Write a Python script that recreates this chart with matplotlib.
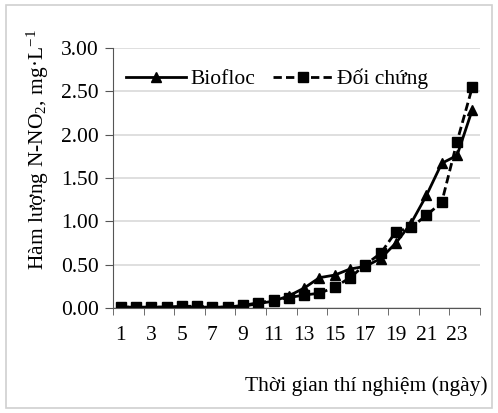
import matplotlib

matplotlib.use("Agg")
import matplotlib.pyplot as plt
from matplotlib.patches import Rectangle
import numpy as np

days = list(range(1, 25))
biofloc = [0.01, 0.01, 0.01, 0.01, 0.01, 0.01, 0.01, 0.01, 0.02, 0.05,
           0.08, 0.14, 0.23, 0.35, 0.38, 0.45, 0.48, 0.57, 0.75, 0.98,
           1.30, 1.67, 1.76, 2.29]
control = [0.01, 0.01, 0.01, 0.01, 0.02, 0.02, 0.01, 0.01, 0.03, 0.06,
           0.09, 0.12, 0.15, 0.17, 0.24, 0.35, 0.50, 0.63, 0.88, 0.93,
           1.07, 1.22, 1.92, 2.55]
xtick_labels = [str(d) for d in range(1, 24, 2)]

plt.rcParams["font.family"] = ["Liberation Serif", "DejaVu Serif"]
FS = 15.5

fig = plt.figure(figsize=(4.98, 4.13), dpi=100)
fig.patches.append(Rectangle((0.012, 0.012), 0.976, 0.976, transform=fig.transFigure,
                             fill=False, edgecolor="#d0d0d0", linewidth=1.2))
ax = fig.add_axes([113 / 498, 1 - 308 / 413, (480 - 113) / 498, (308 - 48) / 413])

ax.plot(days, biofloc, "-", color="black", lw=2, marker="^", ms=7,
        label="Biofloc")
ax.plot(days, control, "--", color="black", lw=2, marker="s", ms=6.5,
        dashes=(3, 1.5), label="Đối chứng")

ax.set_xlim(0.5, 24.5)
ax.set_ylim(0, 3.0)
ax.set_yticks(np.arange(0, 3.01, 0.5))
ax.set_yticklabels([f"{v:.2f}" for v in np.arange(0, 3.01, 0.5)], fontsize=FS)
ax.set_xticks(range(1, 24, 2))
ax.set_xticklabels(xtick_labels, fontsize=FS)
ax.tick_params(axis="x", length=0, pad=13)
ax.set_xticks(np.arange(0.5, 24.6, 2), minor=True)
ax.tick_params(axis="x", which="minor", length=5, direction="out", color="#555555")
ax.tick_params(axis="y", length=6, direction="out", color="#555555", pad=4)
ax.grid(axis="y", color="#d9d9d9", lw=1.2)
ax.set_axisbelow(True)
for s in ("top", "right"):
    ax.spines[s].set_visible(False)
ax.spines["left"].set_color("#555555")
ax.spines["bottom"].set_color("#555555")

fig.text(38 / 498, 1 - 150 / 413,
         r"Hàm lượng N-NO$\mathregular{_2}$, mg·L$\mathregular{^{-1}}$",
         rotation=90, ha="center", va="center", fontsize=FS)
fig.text(488 / 498, 1 - 386 / 413, "Thời gian thí nghiệm (ngày)", ha="right",
         va="center", fontsize=FS)

leg = ax.legend(loc="upper left", ncol=2, frameon=False, fontsize=FS,
                handlelength=2.8, handletextpad=0.2, columnspacing=0.8,
                borderaxespad=0.2, bbox_to_anchor=(0.0, 0.97))

fig.savefig("out.png", dpi=100)
